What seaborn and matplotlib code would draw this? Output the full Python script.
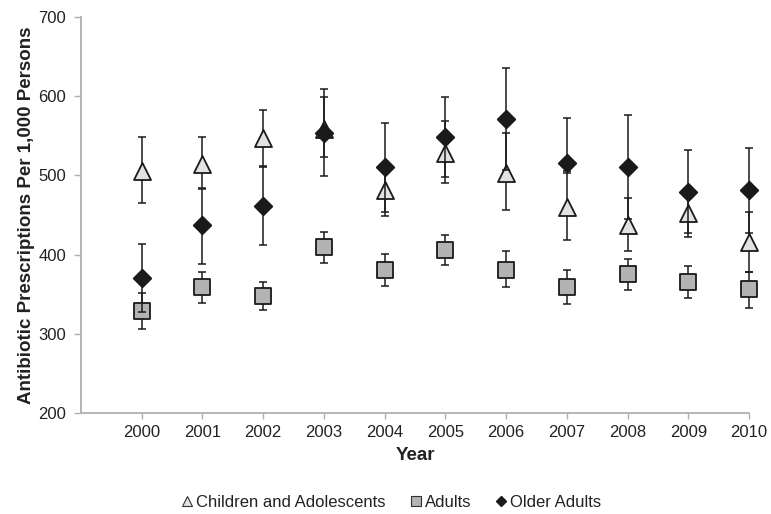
import matplotlib
matplotlib.use("Agg")
import matplotlib.pyplot as plt
import seaborn as sns
import pandas as pd
from matplotlib.lines import Line2D

years = [2000, 2001, 2002, 2003, 2004, 2005, 2006, 2007, 2008, 2009, 2010]

children = [505, 514, 547, 559, 481, 528, 503, 460, 437, 452, 416]
children_lo = [465, 484, 512, 523, 454, 498, 456, 418, 404, 427, 378]
children_hi = [549, 549, 582, 599, 508, 569, 553, 503, 472, 478, 454]

adults = [329, 359, 348, 409, 381, 406, 381, 359, 376, 365, 356]
adults_lo = [306, 339, 330, 389, 360, 387, 359, 337, 355, 345, 332]
adults_hi = [351, 378, 365, 428, 401, 425, 404, 380, 394, 385, 378]

older = [370, 437, 461, 554, 510, 549, 571, 516, 510, 479, 481]
older_lo = [327, 388, 412, 499, 449, 491, 507, 505, 445, 422, 427]
older_hi = [413, 483, 511, 609, 566, 599, 635, 572, 576, 532, 535]

groups = ["Children and Adolescents", "Adults", "Older Adults"]

df = pd.concat([
    pd.DataFrame({"Year": years, "value": children, "lo": children_lo, "hi": children_hi, "group": groups[0]}),
    pd.DataFrame({"Year": years, "value": adults, "lo": adults_lo, "hi": adults_hi, "group": groups[1]}),
    pd.DataFrame({"Year": years, "value": older, "lo": older_lo, "hi": older_hi, "group": groups[2]}),
])

sns.set_style("white")
plt.rcParams['font.family'] = ['Liberation Sans', 'DejaVu Sans']

styles = {
    groups[0]: dict(marker="^", color="#e2e2e2", s=150),
    groups[1]: dict(marker="s", color="#b3b3b3", s=120),
    groups[2]: dict(marker="D", color="#1a1a1a", s=80),
}

fig = plt.figure(figsize=(7.71, 5.14), dpi=100)
ax = fig.add_axes([0.105, 0.1965, 0.8665, 0.7705])

for i, g in enumerate(groups):
    d = df[df["group"] == g]
    ax.errorbar(d["Year"], d["value"], yerr=[d["value"] - d["lo"], d["hi"] - d["value"]],
                fmt="none", ecolor="#1a1a1a", elinewidth=1.1, capsize=3.2, capthick=1.1,
                zorder=2 + 2 * i, clip_on=False)
    sns.scatterplot(x=d["Year"], y=d["value"], marker=styles[g]["marker"], color=styles[g]["color"],
                    s=styles[g]["s"], edgecolor="#1a1a1a", linewidth=1.3, ax=ax,
                    zorder=3 + 2 * i, clip_on=False)

ax.set_xlim(1999, 2010)
ax.set_ylim(200, 700)
ax.set_xticks(years)
ax.set_yticks(range(200, 701, 100))
ax.tick_params(bottom=True, left=True, labelsize=12, labelcolor="#222222", color="#b0b0b0",
               width=1, direction="out")
ax.tick_params(axis="x", length=4, pad=4.5)
ax.tick_params(axis="y", length=5, pad=5.8)
for side in ["top", "right"]:
    ax.spines[side].set_visible(False)
for side in ["left", "bottom"]:
    ax.spines[side].set_color("#b0b0b0")
    ax.spines[side].set_linewidth(1.3)

ax.set_xlabel("Year", fontsize=13.5, fontweight="bold", color="#222222", labelpad=5)
ax.set_ylabel("Antibiotic Prescriptions Per 1,000 Persons", fontsize=13.5, fontweight="bold",
              color="#222222", labelpad=2)

handles = [
    Line2D([], [], linestyle="none", marker="^", markersize=7, markerfacecolor="#e2e2e2",
           markeredgecolor="#333333", markeredgewidth=0.8),
    Line2D([], [], linestyle="none", marker="s", markersize=6.5, markerfacecolor="#b3b3b3",
           markeredgecolor="#333333", markeredgewidth=0.8),
    Line2D([], [], linestyle="none", marker="D", markersize=4.8, markerfacecolor="#1a1a1a",
           markeredgecolor="#1a1a1a"),
]
fig.legend(handles, groups, loc="center", bbox_to_anchor=(0.507, 0.023), ncol=3, frameon=False,
           fontsize=12, handletextpad=0.15, columnspacing=1.4, handlelength=0.8,
           labelcolor="#222222", borderpad=0, borderaxespad=0)

fig.savefig("out.png", dpi=100)
